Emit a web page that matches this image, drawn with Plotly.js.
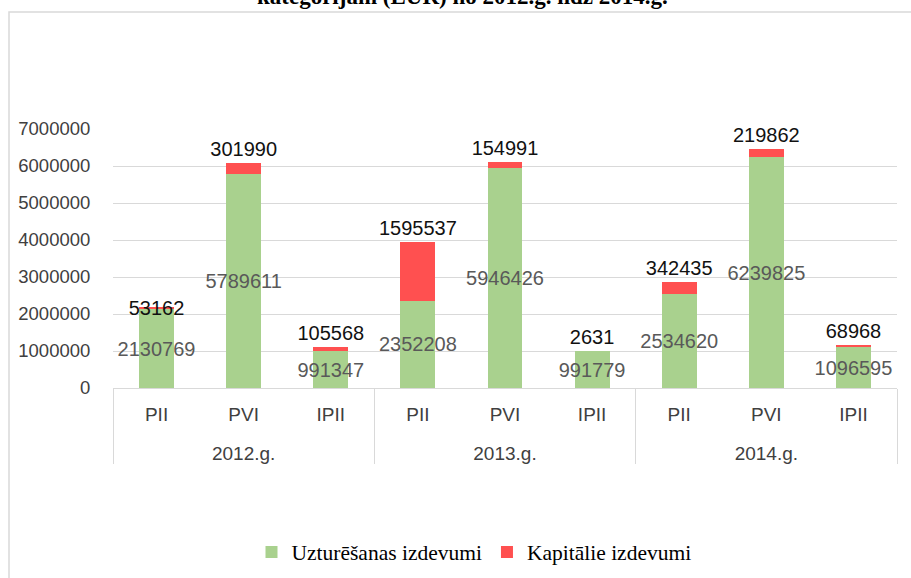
<!DOCTYPE html>
<html>
<head>
<meta charset="utf-8">
<script src="https://cdn.plot.ly/plotly-3.0.1.min.js"></script>
<style>html,body{margin:0;padding:0;background:#fff;}#chart{width:911px;height:578px;}</style>
</head>
<body>
<div id="chart"></div>
<script>
// ---- data ----
var years = ["2012.g.", "2012.g.", "2012.g.", "2013.g.", "2013.g.", "2013.g.", "2014.g.", "2014.g.", "2014.g."];
var categories = ["PII", "PVI", "IPII", "PII", "PVI", "IPII", "PII", "PVI", "IPII"];
var uzturesanas = [2130769, 5789611, 991347, 2352208, 5946426, 991779, 2534620, 6239825, 1096595];
var kapitalie = [53162, 301990, 105568, 1595537, 154991, 2631, 342435, 219862, 68968];
var seriesNames = ["Uzturēšanas izdevumi", "Kapitālie izdevumi"];
var yTicks = [0, 1000000, 2000000, 3000000, 4000000, 5000000, 6000000, 7000000];
var titleText = "kategorijām (EUR) no 2012.g. līdz 2014.g.";

// ---- layout helpers (pixel -> paper) ----
var W = 911, H = 578, mL = 113, mR = 14, mT = 129, mB = 190;
var pw = W - mL - mR, ph = H - mT - mB;
function px(x) { return (x - mL) / pw; }
function py(y) { return (H - mB - y) / ph; }

var kapPos = kapitalie.map(function (v, i) { return i === 0 ? "inside" : "outside"; });
var yearLabels = years.map(function (y) { return "<br>" + y; });

var traces = [
  {
    type: "bar",
    name: seriesNames[0],
    x: [yearLabels, categories],
    y: uzturesanas,
    text: uzturesanas.map(String),
    textposition: "inside",
    insidetextanchor: "middle",
    constraintext: "none",
    textangle: 0,
    insidetextfont: { family: "Liberation Sans, Arial, sans-serif", size: 20, color: "#595959" },
    marker: { color: "#a9d18e" },
    hoverinfo: "skip",
    cliponaxis: false
  },
  {
    type: "bar",
    name: seriesNames[1],
    x: [yearLabels, categories],
    y: kapitalie,
    text: kapitalie.map(String),
    textposition: kapPos,
    insidetextanchor: "middle",
    constraintext: "none",
    textangle: 0,
    insidetextfont: { family: "Liberation Sans, Arial, sans-serif", size: 20, color: "#111111" },
    outsidetextfont: { family: "Liberation Sans, Arial, sans-serif", size: 20, color: "#111111" },
    marker: { color: "#ff5050" },
    hoverinfo: "skip",
    cliponaxis: false
  }
];

var layout = {
  width: W, height: H,
  margin: { l: mL, r: mR, t: mT, b: mB, pad: 0, autoexpand: false },
  paper_bgcolor: "#ffffff",
  plot_bgcolor: "#ffffff",
  barmode: "stack",
  bargap: 0.6,
  showlegend: true,
  legend: {
    orientation: "h",
    xref: "container", yref: "container",
    x: 474 / W, xanchor: "center",
    y: (H - 552) / H, yanchor: "middle",
    font: { family: "Liberation Serif, Times New Roman, serif", size: 21.5, color: "#000000" },
    traceorder: "normal"
  },
  xaxis: {
    type: "multicategory",
    showline: true,
    linecolor: "#d9d9d9",
    linewidth: 1,
    ticks: "",
    ticklabelstandoff: 9,
    showdividers: true,
    dividercolor: "#d9d9d9",
    dividerwidth: 1,
    tickfont: { family: "Liberation Sans, Arial, sans-serif", size: 19, color: "#404040" },
    showgrid: false,
    zeroline: false
  },
  yaxis: {
    range: [0, 7000000],
    tickvals: yTicks,
    ticktext: yTicks.map(String),
    showgrid: true,
    gridcolor: "#d9d9d9",
    gridwidth: 1,
    zeroline: false,
    showline: false,
    ticks: "outside",
    ticklen: 18,
    tickcolor: "rgba(0,0,0,0)",
    tickfont: { family: "Liberation Sans, Arial, sans-serif", size: 18.5, color: "#404040" }
  },
  annotations: [
    {
      text: "<b>" + titleText + "</b>",
      xref: "paper", yref: "paper",
      x: px(462), xanchor: "center",
      y: py(11), yanchor: "bottom",
      showarrow: false,
      font: { family: "Liberation Serif, Times New Roman, serif", size: 23, color: "#000000" }
    }
  ],
  shapes: [
    {
      type: "path", xref: "paper", yref: "paper",
      path: "M " + px(9) + " " + py(578) + " L " + px(9) + " " + py(12) + " L " + px(911) + " " + py(12),
      line: { color: "#d9d9d9", width: 1.5 }
    }
  ]
};

Plotly.newPlot("chart", traces, layout, { displayModeBar: false, staticPlot: true });
</script>
</body>
</html>
